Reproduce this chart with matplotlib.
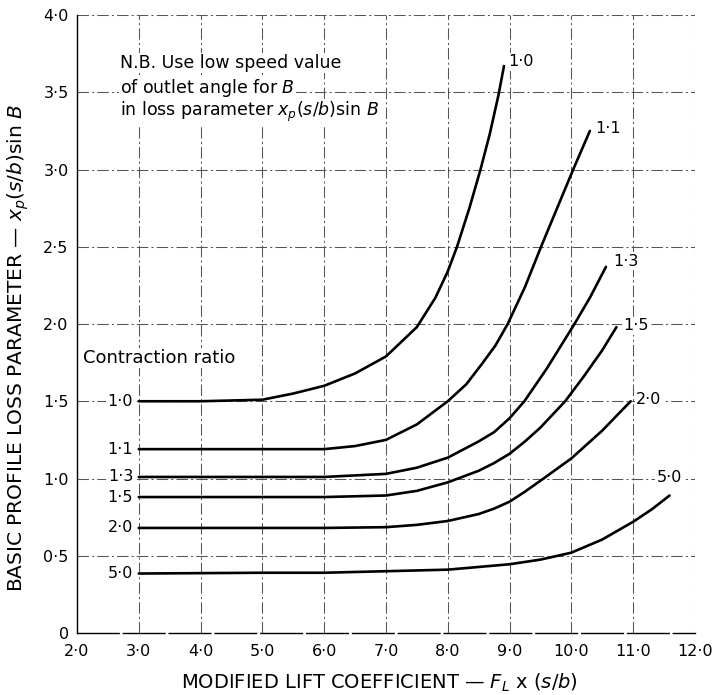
import matplotlib
matplotlib.use("Agg")
import matplotlib.pyplot as plt

plt.rcParams["font.family"] = ["DejaVu Sans"]
plt.rcParams["mathtext.fontset"] = "dejavusans"

# Modified lift coefficient (x) and basic profile loss parameter (y)
# for each contraction ratio
ratio_labels = ["1·0", "1·1", "1·3", "1·5", "2·0", "5·0"]

x_10 = [3.0, 4.0, 5.0, 5.5, 6.0, 6.5, 7.0, 7.5, 7.8, 8.0, 8.15, 8.35, 8.53, 8.68, 8.82, 8.91]
y_10 = [1.50, 1.50, 1.51, 1.55, 1.60, 1.68, 1.79, 1.98, 2.17, 2.34, 2.50, 2.75, 3.00, 3.23, 3.48, 3.67]

x_11 = [3.0, 5.0, 6.0, 6.5, 7.0, 7.5, 8.0, 8.3, 8.55, 8.77, 8.97, 9.25, 9.51, 9.77, 10.03, 10.30]
y_11 = [1.19, 1.19, 1.19, 1.21, 1.25, 1.35, 1.50, 1.61, 1.74, 1.86, 2.00, 2.24, 2.50, 2.75, 3.00, 3.25]

x_13 = [3.0, 6.0, 7.0, 7.5, 8.0, 8.5, 8.75, 9.0, 9.24, 9.6, 10.05, 10.3, 10.56]
y_13 = [1.01, 1.01, 1.03, 1.07, 1.135, 1.24, 1.30, 1.39, 1.50, 1.71, 2.00, 2.17, 2.37]

x_15 = [3.0, 6.0, 7.0, 7.5, 8.0, 8.5, 8.75, 9.0, 9.25, 9.5, 9.9, 10.2, 10.5, 10.73]
y_15 = [0.88, 0.88, 0.89, 0.92, 0.975, 1.05, 1.10, 1.16, 1.24, 1.33, 1.50, 1.66, 1.83, 1.98]

x_20 = [3.0, 6.0, 7.0, 7.5, 8.0, 8.5, 8.75, 9.0, 9.25, 9.55, 10.0, 10.5, 10.96]
y_20 = [0.68, 0.68, 0.685, 0.70, 0.725, 0.77, 0.805, 0.85, 0.915, 1.00, 1.13, 1.31, 1.50]

x_50 = [3.0, 5.0, 6.0, 7.0, 8.0, 9.0, 9.5, 10.0, 10.5, 11.0, 11.3, 11.59]
y_50 = [0.385, 0.39, 0.39, 0.40, 0.41, 0.445, 0.475, 0.52, 0.605, 0.72, 0.80, 0.89]

x_ticks = [2, 3, 4, 5, 6, 7, 8, 9, 10, 11, 12]
x_tick_labels = ["2·0", "3·0", "4·0", "5·0", "6·0", "7·0", "8·0", "9·0",
                 "10·0", "11·0", "12·0"]
y_ticks = [0, 0.5, 1.0, 1.5, 2.0, 2.5, 3.0, 3.5, 4.0]
y_tick_labels = ["0", "0·5", "1·0", "1·5", "2·0", "2·5", "3·0", "3·5", "4·0"]

curves = [(x_10, y_10), (x_11, y_11), (x_13, y_13),
          (x_15, y_15), (x_20, y_20), (x_50, y_50)]

fig = plt.figure(figsize=(7.14, 6.95), dpi=100)
ax = fig.add_axes([0.1078, 0.0892, 0.8655, 0.8892])
ax.set_xlim(2, 12)
ax.set_ylim(0, 4)

grid_style = dict(color="#555555", lw=0.75, linestyle=(0, (11, 3, 2, 3)), zorder=1)
for gx in x_ticks[1:]:
    ax.axvline(gx, **grid_style)
for gy in y_ticks[1:]:
    ax.axhline(gy, **grid_style)

for side in ("top", "right"):
    ax.spines[side].set_visible(False)
ax.spines["left"].set_linewidth(1.0)
ax.spines["bottom"].set_linewidth(1.0)
ax.spines["bottom"].set_linestyle((0, (30, 3)))

ax.set_xticks(x_ticks)
ax.set_xticklabels(x_tick_labels)
ax.set_yticks(y_ticks)
ax.set_yticklabels(y_tick_labels)
ax.tick_params(length=0, labelsize=11.5, pad=6)
ax.tick_params(axis="x", pad=8)

white = dict(facecolor="white", edgecolor="none", pad=1.0)

end_offsets = [(3, 3), (4, 2), (5, 4), (5, 1), (4, 1), (0, 13)]
end_align = ["left", "left", "left", "left", "left", "center"]
for (xs, ys), lab, off, ha in zip(curves, ratio_labels, end_offsets, end_align):
    ax.plot(xs, ys, color="black", lw=1.9, solid_capstyle="round",
            solid_joinstyle="round", zorder=3)
    ax.annotate(lab, (xs[-1], ys[-1]), xytext=off, textcoords="offset points",
                ha=ha, va="center", fontsize=11.5, bbox=white, zorder=4)
    ax.annotate(lab, (xs[0], ys[0]), xytext=(-4, 0), textcoords="offset points",
                ha="right", va="center", fontsize=11.5, bbox=white, zorder=4)

ax.text(2.10, 1.78, "Contraction ratio", ha="left", va="center",
        fontsize=13, bbox=white, zorder=4)

note_lines = ["N.B. Use low speed value",
              "of outlet angle for $B$",
              "in loss parameter $x_p(s/b)$sin $B$"]
for i, line in enumerate(note_lines):
    ax.text(2.70, 3.69 - i * 0.16, line, ha="left", va="center",
            fontsize=12.5, bbox=white, zorder=4)

fig.text(18 / 714, 0.50,
         "BASIC PROFILE LOSS PARAMETER — $x_p(s/b)$sin $B$",
         rotation=90, ha="center", va="center", fontsize=14.5)
fig.text(0.531, 0.017, "MODIFIED LIFT COEFFICIENT — $F_L$ x $(s/b)$",
         ha="center", va="center", fontsize=14)

fig.savefig("out.png", dpi=100)
